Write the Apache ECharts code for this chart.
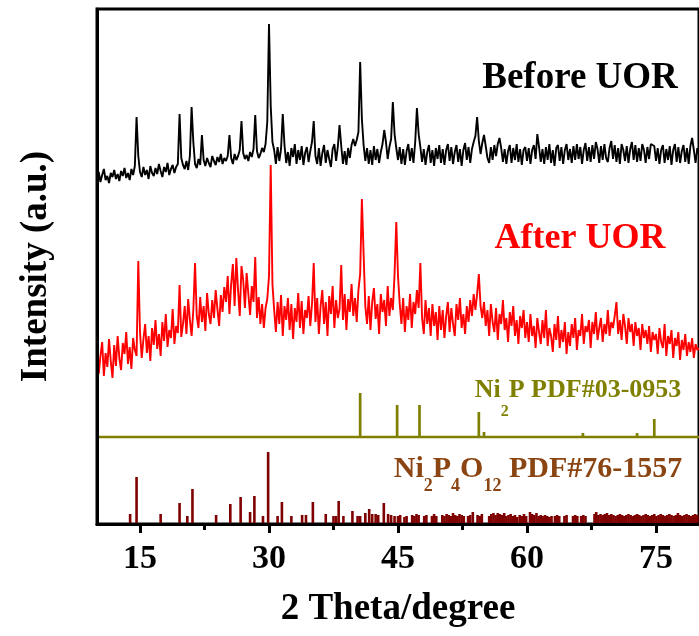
<!DOCTYPE html>
<html>
<head>
<meta charset="utf-8">
<title>XRD patterns before and after UOR</title>
<script src="https://cdn.jsdelivr.net/npm/echarts@6/dist/echarts.min.js"></script>
<style>
  html, body { margin: 0; padding: 0; background: #fff; }
  #chart { width: 699px; height: 636px; }
</style>
</head>
<body>
<div id="chart"></div>
<script>
// 2θ sampling of the measured patterns (degrees)
const twoThetaStart = 10;
const twoThetaStep = 0.2;

// Measured intensity (a.u.), one value per 0.2° from 10° to 80°
const beforeUOR = [
  16,22,12,19,25,14,18,11,21,17,24,15,20,13,23,18,26,16,21,14,25,19,28,77,38,
  22,17,27,19,24,15,28,21,18,26,20,30,23,17,27,22,31,19,25,29,21,27,30,80,36,
  29,25,33,24,38,87,52,30,26,35,29,59,34,28,36,31,27,38,33,29,37,32,40,30,36,
  33,38,59,36,30,40,34,38,44,73,41,35,39,33,42,37,45,79,43,36,40,46,42,50,72,
  170,88,52,44,30,47,33,45,80,49,31,42,28,46,37,50,30,44,34,48,29,41,47,32,43,
  52,73,38,30,46,28,41,49,31,44,35,27,45,50,33,47,69,48,30,43,29,46,36,49,55,
  48,54,62,132,75,49,33,46,30,44,29,48,34,45,31,42,50,64,52,35,47,55,92,60,46,
  34,47,30,45,29,43,50,33,46,31,52,86,60,47,32,45,29,42,49,31,44,28,46,35,49,
  31,45,29,44,50,33,47,30,42,49,32,45,28,44,51,34,47,31,45,52,58,77,53,40,51,
  59,48,36,31,47,34,49,38,50,56,46,32,45,30,43,49,31,46,34,50,32,45,29,44,47,
  33,46,30,44,49,35,60,47,32,45,30,47,34,50,31,44,28,46,49,33,47,30,44,50,34,
  45,31,48,34,50,35,47,30,44,51,33,47,32,49,35,52,45,31,48,34,50,36,32,46,53,
  35,49,32,46,30,50,44,33,48,31,45,52,34,49,32,46,33,50,44,31,47,35,50,52,48,
  33,46,30,44,49,31,45,34,48,29,44,50,32,47,31,43,49,32,46,30,48,56,44,31,46,
  40
];

const afterUOR = [
  45,20,38,52,18,41,27,55,33,16,49,28,58,36,24,51,40,62,30,47,25,56,44,38,133,
  62,36,55,70,41,58,33,66,49,74,45,60,38,72,53,80,47,64,56,85,50,68,61,109,57,
  70,88,60,95,74,58,84,131,78,66,97,72,88,63,101,80,70,94,76,104,85,68,99,82,107,
  92,118,80,110,130,88,136,104,78,128,114,86,121,100,79,108,92,137,76,97,70,90,66,86,95,
  118,229,110,84,62,92,70,99,58,88,74,96,64,90,55,86,72,101,66,93,60,84,76,98,68,
  90,131,72,96,60,88,104,70,92,58,98,80,108,66,94,76,85,129,74,100,64,95,82,110,78,
  96,72,104,120,195,140,88,70,98,64,92,106,75,90,60,100,82,94,68,108,78,96,84,120,172,
  118,90,70,96,62,88,74,100,66,92,80,104,86,131,76,60,94,70,86,58,90,68,82,54,88,
  64,84,56,78,92,62,86,70,58,90,74,96,66,80,60,88,72,94,78,100,84,100,120,88,76,
  92,68,84,58,90,72,62,86,54,80,70,94,64,76,52,82,68,88,58,74,50,78,66,84,56,
  72,52,80,58,68,46,76,62,50,74,56,84,48,66,58,42,70,54,78,46,64,52,72,40,62,
  48,70,56,76,44,64,58,80,50,68,62,74,46,72,60,82,54,66,76,52,70,60,84,58,72,
  66,78,92,60,74,54,80,68,50,76,62,70,48,72,58,66,44,70,56,64,50,68,42,62,54,
  60,40,66,52,46,70,38,58,50,64,36,56,48,62,34,54,44,60,38,52,42,56,36,50,44,
  46
];

// Reference card Ni2P (PDF#03-0953): line positions and relative heights
const ni2pPositions = [40.6, 44.9, 47.5, 54.4, 55.0, 66.5, 72.8, 74.8];
const ni2pHeights   = [44, 32, 32, 25, 5, 4, 4, 18];

// Reference card Ni2P4O12 (PDF#76-1557): line positions and relative heights
const ni2p4o12Positions = [
  13.85,14.6,17.4,19.6,20.5,21.1,23.85,25.5,26.7,27.8,28.3,29.3,29.9,31.0,31.5,32.6,33.85,34.3,35.1,36.6,
  37.5,37.8,38.1,38.65,39.7,40.3,40.6,41.2,41.65,42.0,42.4,42.7,43.35,43.85,44.2,44.6,
  45.0,45.25,45.75,46.0,46.65,46.9,47.15,47.4,48.05,48.3,48.95,49.2,49.45,
  50.15,50.4,50.65,50.9,51.15,51.4,51.65,51.9,52.15,52.4,52.65,53.15,53.4,53.7,54.25,54.5,54.75,
  55.6,55.85,56.1,56.35,56.6,56.85,57.1,57.35,57.6,57.85,58.1,58.35,58.6,58.85,59.15,59.4,59.65,59.9,
  60.35,60.6,60.85,61.1,61.35,61.6,61.85,62.1,62.35,62.6,62.85,63.25,63.5,63.75,64.35,64.6,
  65.35,65.6,65.85,66.3,66.55,66.8,67.85,68.05,68.3,68.55,68.8,69.05,69.3,69.55,69.8,
  70.05,70.3,70.55,70.8,71.05,71.3,71.55,71.8,72.05,72.3,72.55,72.8,73.05,73.3,73.55,73.8,
  74.05,74.3,74.55,74.8,75.05,75.3,75.55,75.8,76.05,76.3,76.55,76.8,77.05,77.3,77.55,77.8,
  78.05,78.3,78.55,78.8,79.05,79.3,79.55,79.8
];
const ni2p4o12Heights = [
  10,47,10,21,8,35,9,20,27,12,28,8,72,8,22,8,9,9,22,10,
  8,8,23,8,13,8,8,11,15,10,10,9,21,10,9,8,
  8,9,7,8,9,8,10,9,8,9,8,10,8,
  9,8,10,9,8,11,9,8,10,9,8,8,9,12,9,8,10,
  8,10,11,9,11,10,9,11,8,9,10,8,9,7,9,8,10,8,
  12,10,9,11,8,9,8,9,8,7,8,8,9,8,8,9,
  8,9,8,8,9,8,10,12,9,10,9,10,11,9,10,
  9,8,9,10,9,8,9,10,9,8,9,10,9,8,9,10,
  9,8,9,10,8,9,10,9,8,9,10,9,8,9,11,9,
  8,9,10,9,8,9,10,9
];

// Axis ticks
const xMajorTicks = [15, 30, 45, 60, 75];
const xMinorTicks = [22.5, 37.5, 52.5, 67.5];

// Vertical stacking of the four traces
const offsets = { before: 330, after: 130, ni2p: 87, ni2p4o12: 0 };

const FONT = '"Liberation Serif", "Times New Roman", serif';

function sampled(values, offset) {
  return values.map((v, i) => [twoThetaStart + twoThetaStep * i, v + offset]);
}

function stickPath(positions, heights, offset) {
  const pts = [[10, offset]];
  positions.forEach((p, i) => {
    pts.push([p, offset], [p, offset + heights[i]], [p, offset]);
  });
  pts.push([80, offset]);
  return pts;
}

const chart = echarts.init(document.getElementById('chart'), null, { renderer: 'canvas' });

chart.setOption({
  animation: false,
  backgroundColor: '#ffffff',
  grid: {
    left: 97, top: 9, right: -8, bottom: 112,
    show: true, borderColor: '#000', borderWidth: 3, backgroundColor: 'transparent'
  },
  xAxis: [
    {
      type: 'value', min: 10, max: 80, z: 5,
      name: '2 Theta/degree', nameLocation: 'middle', nameGap: 67,
      nameTextStyle: { fontFamily: FONT, fontWeight: 'bold', fontSize: 37, color: '#000' },
      axisLine: { show: true, lineStyle: { color: '#000', width: 3 } },
      axisTick: { show: true, inside: false, length: 9, customValues: xMajorTicks,
                  lineStyle: { color: '#000', width: 3 } },
      axisLabel: { show: true, customValues: xMajorTicks, margin: 18,
                   fontFamily: FONT, fontWeight: 'bold', fontSize: 34, color: '#000' },
      splitLine: { show: false }
    },
    {
      type: 'value', min: 10, max: 80, position: 'bottom', z: 5,
      axisLine: { show: false },
      axisTick: { show: true, inside: false, length: 6, customValues: xMinorTicks,
                  lineStyle: { color: '#000', width: 3 } },
      axisLabel: { show: false },
      splitLine: { show: false }
    }
  ],
  yAxis: {
    type: 'value', min: 0, max: 515, z: 5,
    name: 'Intensity (a.u.)', nameLocation: 'middle', nameGap: 42,
    nameTextStyle: { fontFamily: FONT, fontWeight: 'bold', fontSize: 37, color: '#000' },
    axisLine: { show: true, lineStyle: { color: '#000', width: 3 } },
    axisTick: { show: false },
    axisLabel: { show: false },
    splitLine: { show: false }
  },
  series: [
    {
      name: 'Ni2P4O12', type: 'bar', barWidth: 2.6,
      data: ni2p4o12Positions.map((p, i) => [p, ni2p4o12Heights[i] + offsets.ni2p4o12]),
      itemStyle: { color: '#7f0000' }
    },
    {
      name: 'Ni2P', type: 'line', showSymbol: false,
      data: stickPath(ni2pPositions, ni2pHeights, offsets.ni2p),
      lineStyle: { color: '#808000', width: 2.7 }
    },
    {
      name: 'After UOR', type: 'line', showSymbol: false,
      data: sampled(afterUOR, offsets.after),
      lineStyle: { color: '#ff0000', width: 1.9 }
    },
    {
      name: 'Before UOR', type: 'line', showSymbol: false,
      data: sampled(beforeUOR, offsets.before),
      lineStyle: { color: '#000000', width: 1.9 }
    }
  ],
  graphic: [
    {
      type: 'text', x: 580, y: 78,
      style: { text: 'Before UOR', font: 'bold 37px ' + FONT, fill: '#000',
               align: 'center', verticalAlign: 'middle' }
    },
    {
      type: 'text', x: 580, y: 239,
      style: { text: 'After UOR', font: 'bold 36px ' + FONT, fill: '#ff0000',
               align: 'center', verticalAlign: 'middle' }
    },
    {
      type: 'text', x: 578, y: 377,
      style: {
        text: '{m|Ni}{s|2}{m|P PDF#03-0953}',
        align: 'center', verticalAlign: 'top',
        rich: {
          m: { fontFamily: FONT, fontWeight: 'bold', fontSize: 26, lineHeight: 30,
               fill: '#808000', verticalAlign: 'top' },
          s: { fontFamily: FONT, fontWeight: 'bold', fontSize: 16, lineHeight: 16,
               padding: [27, 0, 0, 0], fill: '#808000', verticalAlign: 'top' }
        }
      }
    },
    {
      type: 'text', x: 538, y: 454,
      style: {
        text: '{m|Ni}{s|2}{m|P}{s|4}{m|O}{s|12}{m| PDF#76-1557}',
        align: 'center', verticalAlign: 'top',
        rich: {
          m: { fontFamily: FONT, fontWeight: 'bold', fontSize: 30, lineHeight: 34,
               fill: '#8B4513', verticalAlign: 'top' },
          s: { fontFamily: FONT, fontWeight: 'bold', fontSize: 18, lineHeight: 18,
               padding: [23, 0, 0, 0], fill: '#8B4513', verticalAlign: 'top' }
        }
      }
    }
  ]
});
</script>
</body>
</html>
